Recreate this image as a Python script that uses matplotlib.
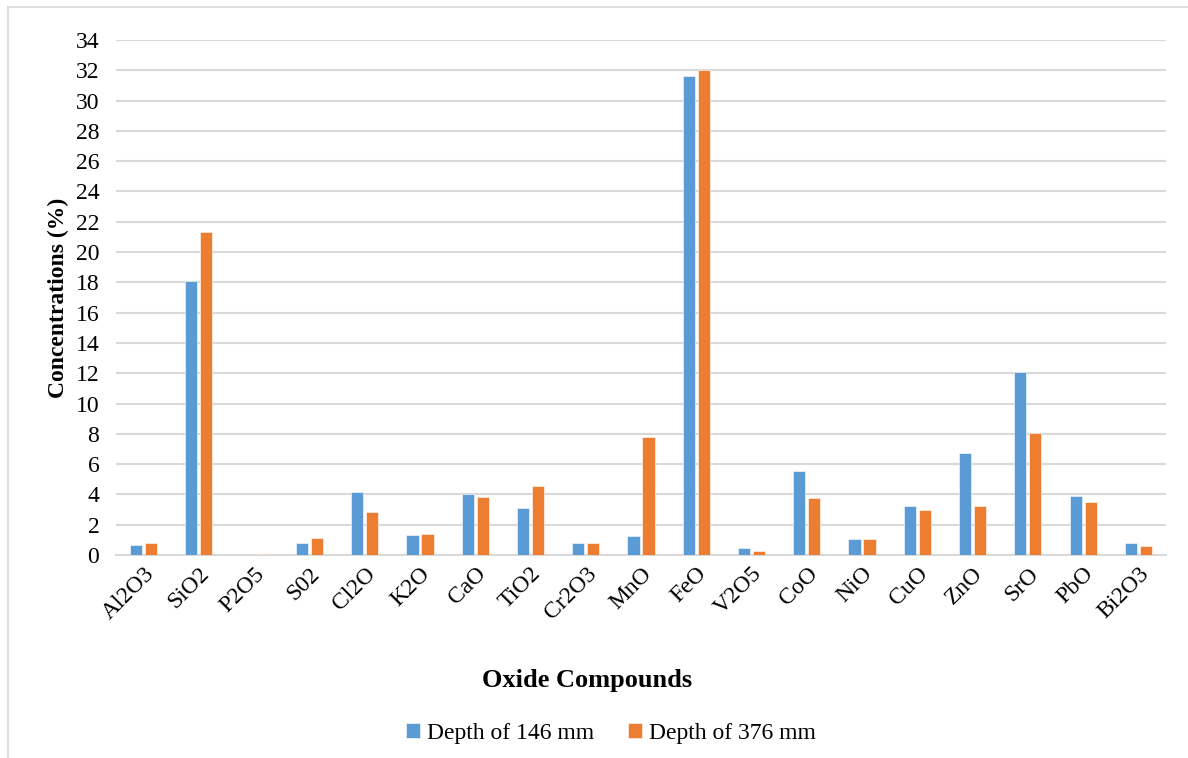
import numpy as np
import matplotlib.pyplot as plt
from matplotlib.lines import Line2D

compounds = ["Al2O3", "SiO2", "P2O5", "S02", "Cl2O", "K2O", "CaO", "TiO2", "Cr2O3",
             "MnO", "FeO", "V2O5", "CoO", "NiO", "CuO", "ZnO", "SrO", "PbO", "Bi2O3"]
depth_146 = [0.64, 18.1, 0.0, 0.79, 4.17, 1.30, 4.06, 3.11, 0.82,
             1.28, 31.6, 0.46, 5.54, 1.08, 3.25, 6.75, 12.05, 3.89, 0.79]
depth_376 = [0.77, 21.3, 0.09, 1.13, 2.87, 1.39, 3.80, 4.53, 0.80,
             7.77, 32.0, 0.26, 3.77, 1.08, 2.94, 3.25, 8.06, 3.47, 0.62]

plt.rcParams['font.family'] = ['Liberation Serif', 'DejaVu Serif']
FS = 17

fig = plt.figure(figsize=(11.88, 7.58), dpi=100)
left, right = 116 / 1188, 1166 / 1188
bottom, top = 1 - 555 / 758, 1 - 40 / 758
ax = fig.add_axes([left, bottom, right - left, top - bottom])

x = np.arange(len(compounds))
w = 0.22
off = 0.136
ax.bar(x - off, depth_146, w, color="#5B9BD5", edgecolor="white", linewidth=0.4,
       label="Depth of 146 mm", zorder=3)
ax.bar(x + off, depth_376, w, color="#ED7D31", edgecolor="white", linewidth=0.4,
       label="Depth of 376 mm", zorder=3)

ax.set_xlim(-0.5, len(compounds) - 0.5)
ax.set_ylim(0, 34)
ax.set_yticks(range(0, 35, 2))
ax.yaxis.grid(True, color="#D9D9D9", linewidth=1.5, zorder=0)
ax.set_axisbelow(True)
for s in ["top", "right", "left"]:
    ax.spines[s].set_visible(False)
ax.spines["bottom"].set_color("#D9D9D9")
ax.spines["bottom"].set_linewidth(1.5)
ax.tick_params(axis="y", length=0, labelsize=FS, pad=12)
ax.tick_params(axis="x", length=0, labelsize=FS, pad=6)
ax.set_xticks(x)
ax.set_xticklabels(compounds, rotation=45, ha="right", rotation_mode="anchor")

ax.set_ylabel("Concentrations (%)", fontsize=FS, fontweight="bold", labelpad=5)
fig.text(587 / 1188, 1 - 680 / 758, "Oxide Compounds", fontsize=19,
         fontweight="bold", ha="center", va="center")

ax.legend(loc="center", bbox_to_anchor=(611 / 1188, 1 - 733 / 758),
          bbox_transform=fig.transFigure, ncol=2, frameon=False, fontsize=FS,
          handlelength=0.6, handleheight=0.6, handletextpad=0.3, columnspacing=1.45)

# light border along the top and left edges of the chart
fig.add_artist(Line2D([8 / 1188, 1], [1 - 7 / 758] * 2, transform=fig.transFigure,
                      color="#D9D9D9", linewidth=1.2))
fig.add_artist(Line2D([8 / 1188] * 2, [0, 1 - 7 / 758], transform=fig.transFigure,
                      color="#D9D9D9", linewidth=1.2))

fig.savefig("out.png", dpi=100)
